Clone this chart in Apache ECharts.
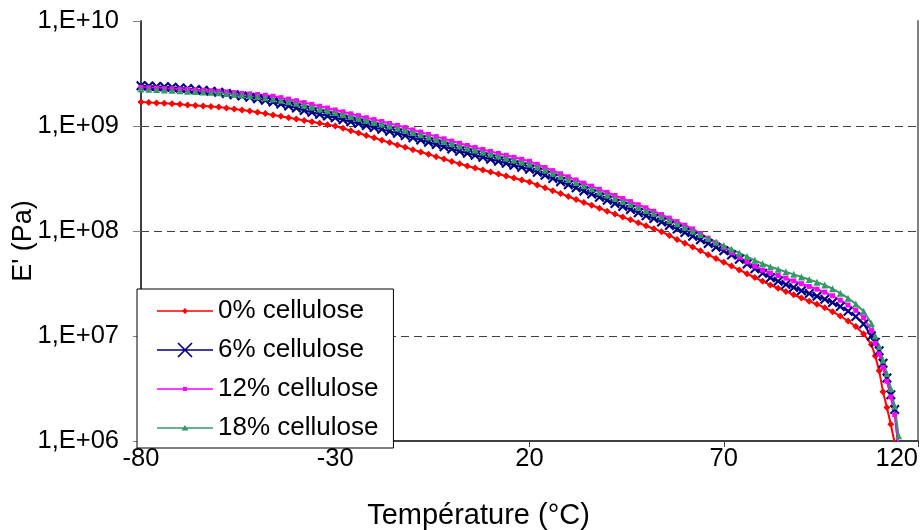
<!DOCTYPE html>
<html>
<head>
<meta charset="utf-8">
<script src="https://cdn.jsdelivr.net/npm/echarts@6/dist/echarts.min.js"></script>
<style>
  html, body { margin: 0; padding: 0; background: #fff; }
  #main { width: 923px; height: 530px; }
</style>
</head>
<body>
<div id="main"></div>
<script>
// temperature (°C)
var temps = [-80,-78,-76,-74,-72,-70,-68,-66,-64,-62,-60,-58,-56,-54,-52,-50,-48,-46,-44,-42,
  -40,-38,-36,-34,-32,-30,-28,-26,-24,-22,-20,-18,-16,-14,-12,-10,-8,-6,-4,-2,
  0,2,4,6,8,10,12,14,16,18,20,22,24,26,28,30,32,34,36,38,
  40,42,44,46,48,50,52,54,56,58,60,62,64,66,68,70,72,74,76,78,
  80,82,84,86,88,90,92,94,96,98,100,102,104,106,108,109,110,111,112,113,114,115];

// log10 of E' (Pa)
var cell0 = [9.229,9.225,9.220,9.216,9.211,9.206,9.201,9.196,9.191,9.186,9.180,9.172,9.163,9.153,9.142,9.131,9.118,9.105,9.092,9.079,
  9.066,9.053,9.040,9.027,9.013,9.000,8.978,8.955,8.933,8.910,8.887,8.865,8.842,8.819,8.797,8.775,8.753,8.731,8.708,8.686,
  8.663,8.641,8.619,8.600,8.581,8.562,8.543,8.524,8.505,8.486,8.467,8.439,8.411,8.384,8.356,8.328,8.300,8.272,8.245,8.217,
  8.189,8.161,8.133,8.106,8.078,8.050,8.022,7.993,7.957,7.920,7.884,7.848,7.811,7.775,7.738,7.702,7.666,7.629,7.593,7.557,
  7.521,7.486,7.455,7.425,7.393,7.362,7.332,7.302,7.270,7.232,7.190,7.143,7.090,7.020,6.920,6.810,6.670,6.470,6.320,6.160,5.980,null];

var cell6 = [9.383,9.380,9.377,9.373,9.368,9.362,9.356,9.348,9.340,9.331,9.321,9.310,9.298,9.286,9.273,9.260,9.245,9.228,9.210,9.191,
  9.171,9.148,9.131,9.113,9.096,9.078,9.060,9.041,9.023,9.004,8.986,8.968,8.949,8.931,8.910,8.888,8.867,8.845,8.824,8.803,
  8.781,8.760,8.740,8.721,8.702,8.683,8.664,8.646,8.627,8.608,8.589,8.560,8.530,8.500,8.470,8.441,8.411,8.381,8.352,8.322,
  8.293,8.263,8.234,8.205,8.175,8.146,8.118,8.086,8.053,8.019,7.985,7.950,7.916,7.881,7.846,7.811,7.771,7.731,7.686,7.641,
  7.598,7.555,7.521,7.491,7.462,7.432,7.405,7.378,7.350,7.318,7.280,7.236,7.185,7.115,7.000,6.940,6.860,6.740,6.600,6.440,6.300,5.900];

var cell12 = [9.368,9.365,9.362,9.358,9.355,9.351,9.347,9.343,9.340,9.336,9.331,9.325,9.318,9.311,9.306,9.300,9.292,9.283,9.270,9.256,
  9.241,9.223,9.206,9.188,9.171,9.153,9.135,9.116,9.098,9.079,9.061,9.043,9.024,9.006,8.985,8.963,8.942,8.920,8.899,8.878,
  8.856,8.835,8.815,8.796,8.777,8.758,8.739,8.721,8.702,8.683,8.664,8.635,8.605,8.575,8.545,8.516,8.486,8.456,8.427,8.397,
  8.368,8.338,8.309,8.280,8.250,8.221,8.188,8.156,8.123,8.089,8.055,8.020,7.976,7.931,7.886,7.841,7.796,7.751,7.706,7.666,
  7.628,7.600,7.576,7.551,7.525,7.498,7.472,7.446,7.418,7.383,7.341,7.295,7.245,7.175,7.050,6.930,6.830,6.700,6.570,6.420,6.250,5.950];

var cell18 = [9.353,9.350,9.347,9.343,9.340,9.336,9.332,9.328,9.325,9.321,9.316,9.310,9.303,9.296,9.288,9.280,9.270,9.258,9.245,9.231,
  9.216,9.198,9.181,9.163,9.146,9.128,9.110,9.091,9.073,9.054,9.036,9.018,8.999,8.981,8.960,8.938,8.917,8.895,8.874,8.853,
  8.831,8.810,8.790,8.771,8.752,8.733,8.714,8.696,8.677,8.658,8.639,8.610,8.580,8.550,8.520,8.491,8.461,8.431,8.402,8.372,
  8.343,8.313,8.284,8.255,8.225,8.196,8.168,8.136,8.103,8.069,8.035,8.000,7.966,7.931,7.896,7.861,7.826,7.791,7.756,7.721,
  7.688,7.660,7.636,7.611,7.587,7.562,7.538,7.513,7.485,7.450,7.408,7.360,7.305,7.235,7.120,7.000,6.900,6.770,6.640,6.500,6.330,6.050];

var names = ['0% cellulose', '6% cellulose', '12% cellulose', '18% cellulose'];
var yTicks = ['1,E+06', '1,E+07', '1,E+08', '1,E+09', '1,E+10'];

var FONT = 'Liberation Sans, Arial, sans-serif';

function pairs(arr) {
  var out = [];
  for (var i = 0; i < temps.length; i++) {
    if (arr[i] != null) out.push([temps[i], Math.pow(10, arr[i])]);
  }
  return out;
}

// legend icons: line + marker, drawn in a 56x16 box
var corners = 'M0,0L0.1,0L0,0.1Z M56,16L55.9,16L56,15.9Z ';
var lineBar = 'M0,7.2L56,7.2L56,8.8L0,8.8Z ';
var icons = [
  'path://' + corners + lineBar + 'M28,5L31,8L28,11L25,8Z',
  'path://' + corners + lineBar + 'M21.6,0.4L35.6,14.4L34.4,15.6L20.4,1.6Z M34.4,0.4L35.6,1.6L21.6,15.6L20.4,14.4Z',
  'path://' + corners + lineBar + 'M26,6L30,6L30,10L26,10Z',
  'path://' + corners + lineBar + 'M28,5L31.5,10.5L24.5,10.5Z'
];
var colors = ['#ff0000', '#000080', '#ff00ff', '#339966'];

var chart = echarts.init(document.getElementById('main'));

var option = {
  backgroundColor: '#ffffff',
  animation: false,
  textStyle: { fontFamily: FONT },
  grid: { left: 141, right: 5, top: 21, bottom: 89, containLabel: false, outerBoundsMode: 'none' },
  legend: {
    left: 137,
    top: 289,
    orient: 'vertical',
    backgroundColor: '#ffffff',
    borderColor: '#000000',
    borderWidth: 1,
    borderRadius: 0,
    padding: [9, 15, 7, 20],
    itemWidth: 56,
    itemHeight: 16,
    itemGap: 13,
    textStyle: { fontSize: 26, color: '#000', fontFamily: FONT, lineHeight: 25 },
    data: names.map(function (n, i) {
      return { name: n, icon: icons[i], itemStyle: { color: colors[i], borderWidth: 0 } };
    })
  },
  xAxis: {
    type: 'value',
    min: -80,
    max: 120,
    interval: 50,
    name: 'Température (°C)',
    nameLocation: 'middle',
    nameGap: 60,
    nameMoveOverlap: false,
    nameTextStyle: { fontSize: 29, color: '#000', fontFamily: FONT, padding: [0, 102, 0, 0] },
    axisLine: { show: true, onZero: false, lineStyle: { color: '#404040', width: 2 } },
    axisTick: { show: true, length: 6, lineStyle: { color: '#404040' } },
    axisLabel: { fontSize: 25.5, color: '#000', margin: 5, alignMaxLabel: 'right', fontFamily: FONT },
    splitLine: { show: false }
  },
  yAxis: [{
    type: 'log',
    logBase: 10,
    min: 1e6,
    max: 1e10,
    splitNumber: 4,
    name: "E' (Pa)",
    nameLocation: 'middle',
    nameGap: 104,
    nameMoveOverlap: false,
    nameTextStyle: { fontSize: 27, color: '#000', fontFamily: FONT, padding: [0, 20, 0, 0] },
    axisLine: { show: true, onZero: false, lineStyle: { color: '#404040', width: 2 } },
    axisTick: { show: true, length: 8, lineStyle: { color: '#808080' } },
    axisLabel: {
      fontSize: 25.5, color: '#000', margin: 22, fontFamily: FONT,
      formatter: function (v) { return yTicks[Math.round(Math.log10(v)) - 6]; }
    },
    splitLine: { show: true, showMaxLine: false, lineStyle: { type: [8, 5], color: '#404040', width: 1 } }
  }, {
    type: 'log',
    logBase: 10,
    min: 1e6,
    max: 1e10,
    position: 'right',
    axisLine: { show: true, onZero: false, lineStyle: { color: '#808080', width: 2 } },
    axisTick: { show: false },
    axisLabel: { show: false },
    splitLine: { show: false }
  }],
  series: [
    {
      name: names[0], type: 'line', data: pairs(cell0),
      symbol: 'diamond', symbolSize: 7, showAllSymbol: true,
      lineStyle: { color: colors[0], width: 2 },
      itemStyle: { color: colors[0] }
    },
    {
      name: names[1], type: 'line', data: pairs(cell6),
      symbol: 'path://M1.5,0L10,8.5L8.5,10L0,1.5Z M8.5,0L10,1.5L1.5,10L0,8.5Z', symbolSize: 10, showAllSymbol: true,
      lineStyle: { color: colors[1], width: 2 },
      itemStyle: { color: colors[1] }
    },
    {
      name: names[2], type: 'line', data: pairs(cell12),
      symbol: 'rect', symbolSize: 5, showAllSymbol: true,
      lineStyle: { color: colors[2], width: 2 },
      itemStyle: { color: colors[2] }
    },
    {
      name: names[3], type: 'line', data: pairs(cell18),
      symbol: 'triangle', symbolSize: 7, showAllSymbol: true,
      lineStyle: { color: colors[3], width: 2 },
      itemStyle: { color: colors[3] }
    }
  ]
};

chart.setOption(option);
</script>
</body>
</html>
